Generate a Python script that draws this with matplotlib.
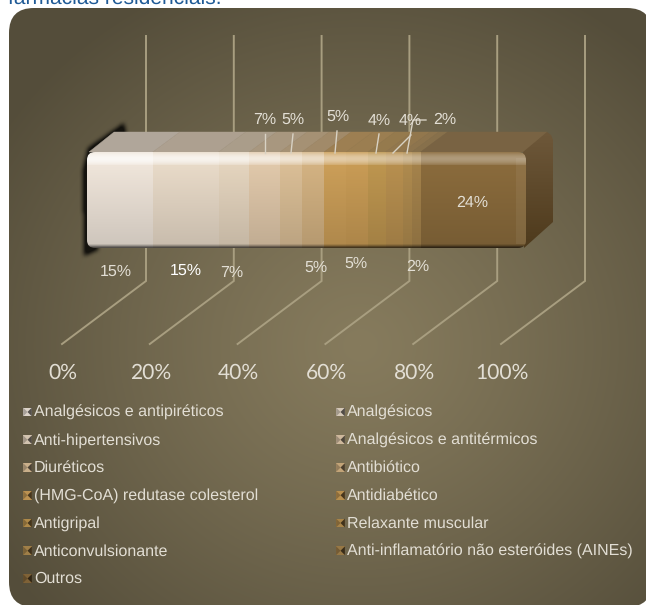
#!/usr/bin/env python3
import numpy as np
import matplotlib
matplotlib.use("Agg")
import matplotlib.pyplot as plt
from matplotlib.patches import FancyBboxPatch, Polygon
from matplotlib.path import Path

W, H = 646, 605

# chart values, in stacking order
labels = ["Analgésicos e antipiréticos", "Analgésicos", "Anti-hipertensivos",
          "Analgésicos e antitérmicos", "Diuréticos", "Antibiótico",
          "(HMG-CoA) redutase colesterol", "Antidiabético", "Antigripal",
          "Relaxante muscular", "Anticonvulsionante",
          "Anti-inflamatório não esteróides (AINEs)", "Outros"]
values = [15, 15, 7, 7, 5, 5, 5, 5, 4, 4, 2, 2, 24]
ticks = [0, 20, 40, 60, 80, 100]
tick_labels = ["0%", "20%", "40%", "60%", "80%", "100%"]
colors = ["#efe5da", "#e8dac8", "#e4d4be", "#e0c8aa", "#dabe96", "#d3b282",
          "#cb9e58", "#c89b55", "#bd954f", "#b78f4f", "#ae8a4e", "#a4824b",
          "#8a6b3c"]

# scale of the value axis on the bar front
PX_PER_PCT = 4.39
X0 = 87
DX, DY = 27, 21  # oblique depth of the bar
BAR_TOP, BAR_BOTTOM = 152, 248
C_GRID = "#a89e80"
C_TEXT = "#e2ded4"

plt.rcParams["text.hinting"] = "none"
plt.rcParams["text.hinting_factor"] = 1
plt.rcParams["font.family"] = ["Liberation Sans", "DejaVu Sans"]

fig = plt.figure(figsize=(W / 100, H / 100), dpi=100)
ax = fig.add_axes([0, 0, 1, 1])
XLIM = (-X0 / PX_PER_PCT, (W - X0) / PX_PER_PCT)
ax.set_xlim(*XLIM)
ax.set_ylim(H, 0)
ax.axis("off")


def px(dx):
    # pixel distance to value units
    return dx / PX_PER_PCT


def rgb(c):
    return np.array(matplotlib.colors.to_rgb(c))


# rounded panel with a radial gradient
yy, xx = np.mgrid[0:H, 0:W]
dist = np.sqrt(((xx - 360) / 430.0) ** 2 + ((yy - 345) / 400.0) ** 2)
t = np.clip(dist, 0, 1)[..., None] ** 1.2
bg = (1 - t) * np.array([134, 123, 93]) + t * np.array([84, 77, 58])
bg_im = ax.imshow(bg / 255.0, extent=XLIM + (H, 0), aspect="auto", zorder=1)
panel = FancyBboxPatch((px(9 - X0), 8), px(652 - 9), 599,
                       boxstyle=f"round,pad=0,rounding_size={px(25)}",
                       mutation_aspect=PX_PER_PCT, fc="none", ec="none")
ax.add_patch(panel)
bg_im.set_clip_path(panel)

# wall and floor gridlines
back = px(146 - X0)
floor = px(62 - X0)
for v in ticks:
    ax.plot([v + back, v + back, v + floor], [36, 281, 344], color=C_GRID,
            lw=1.4, solid_joinstyle="miter", zorder=2)
for v, s in zip(ticks, tick_labels):
    ax.text(v + px(63 - X0), 373, s, color=C_TEXT, fontsize=15, ha="center",
            va="center", family=["Lato", "DejaVu Sans"], zorder=6)

# blurred shadow on the left end of the bar
sy, sx = np.mgrid[100:275, 60:150]
mask = Path([(124, 123), (88, 148), (83, 170), (84, 256), (98, 250), (98, 152), (126, 134)]) \
    .contains_points(np.c_[sx.ravel() + 0.5, sy.ravel() + 0.5]).reshape(sx.shape).astype(float)
kernel = np.ones(5) / 5
for _ in range(2):
    mask = np.apply_along_axis(lambda r: np.convolve(r, kernel, mode="same"), 0, mask)
    mask = np.apply_along_axis(lambda r: np.convolve(r, kernel, mode="same"), 1, mask)
shadow = np.zeros(mask.shape + (4,))
shadow[..., 3] = np.clip(mask, 0, 0.8)
ax.imshow(shadow, aspect="auto", zorder=3, extent=(px(60 - X0), px(150 - X0), 275, 100))

edges = np.concatenate([[0], np.cumsum(values)])

# vertical shading of the front face
n = BAR_BOTTOM - BAR_TOP
s = np.linspace(0, 1, n)
shade = np.where(s < 0.13, 1.0, 1.0 - 0.14 * (s - 0.13) / 0.87)
shade[-4:] *= np.array([0.9, 0.75, 0.55, 0.4])
glow = np.where(s < 0.13, 0.55 * np.sin(np.clip(s / 0.13, 0, 1) * np.pi) + 0.25, 0.0)

frame = FancyBboxPatch((0, BAR_TOP), 100, n, boxstyle=f"round,pad=0,rounding_size={px(8)}",
                       mutation_aspect=PX_PER_PCT, fc="none", ec="none")
ax.add_patch(frame)

wall_tone = np.array([100, 90, 75]) / 255.0
for i, c in enumerate(colors):
    base = rgb(c)
    # top face, the front colour washed into the background
    top = 0.55 * base + 0.45 * wall_tone
    back_right = edges[i + 1] + px(DX - 6 if i == len(colors) - 1 else DX)
    ax.add_patch(Polygon([(edges[i] + px(2 if i == 0 else 0), BAR_TOP), (edges[i + 1], BAR_TOP),
                          (back_right, BAR_TOP - DY + 1),
                          (edges[i] + px(DX), BAR_TOP - DY + 1)],
                         fc=top, ec=top, lw=0.3, zorder=4))
    # front face, highlight weaker on the darker segments
    col = base[None, :] * shade[:, None]
    col = col + (1 - col) * glow[:, None] * base.mean()
    im = ax.imshow(np.clip(col[:, None, :], 0, 1), aspect="auto",
                   extent=(edges[i], edges[i + 1], BAR_BOTTOM, BAR_TOP), zorder=5)
    im.set_clip_path(frame)

# lighter edge on the right of the front face
ax.add_patch(Polygon([(100 - px(10), BAR_TOP + 6), (100, BAR_TOP + 6), (100, BAR_BOTTOM - 4),
                      (100 - px(10), BAR_BOTTOM - 4)],
                     fc="white", alpha=0.06, ec="none", zorder=5.2))

# right end of the bar
end = edges[-1]
side = Polygon([(end - px(3), BAR_TOP), (end + px(DX - 6), BAR_TOP - DY + 1),
                (end + px(DX - 2), BAR_TOP - DY + 4), (end + px(DX), BAR_TOP - DY + 9),
                (end + px(DX), BAR_BOTTOM - 26), (end - px(2), BAR_BOTTOM)],
               fc="none", ec="none")
ax.add_patch(side)
side_grad = np.linspace(0, 1, 50)[:, None, None] * np.array([78, 58, 28]) + \
    np.linspace(1, 0, 50)[:, None, None] * np.array([110, 88, 58])
im = ax.imshow(side_grad / 255.0, aspect="auto", zorder=4.5,
               extent=(end - px(3), end + px(DX), BAR_BOTTOM, BAR_TOP - DY))
im.set_clip_path(side)
ax.set_xlim(*XLIM)
ax.set_ylim(H, 0)

# data labels and their leader lines
label_pos = [(116, 272), (186, 271), (232, 273), (265, 120), (316, 268), (293, 120),
             (356, 264), (338, 117), (379, 121), (410, 121), (418, 267), (445, 120),
             (472, 203)]
leaders = [[(265, 153), (265, 134)], [(291, 153), (293, 134)], [(335, 153), (337, 131)],
           [(376, 153), (379, 134)], [(393, 153), (411, 135)],
           [(407, 153), (413, 120), (426, 120)]]
for seg in leaders:
    xs = [px(p[0] - X0) for p in seg]
    ys = [p[1] for p in seg]
    ax.plot(xs, ys, color="#d8d2c4", lw=1.0, zorder=6)
for i, (v, pos) in enumerate(zip(values, label_pos)):
    ax.text(px(pos[0] - X0), pos[1], f"{v}%", fontsize=11.2, ha="center", va="center",
            color="white" if i == 1 else C_TEXT, zorder=7)

# legend with small bevelled keys
rows_left = labels[0::2]
rows_right = labels[1::2]
for x_key, rows, first in [(27.5, rows_left, 0), (340.5, rows_right, 1)]:
    for r, name in enumerate(rows):
        y = 412 + r * 27.75
        base = rgb(colors[first + 2 * r])
        cx, h = px(x_key - X0), 4.4
        w = px(4.4)
        # top and bottom facets mid tone, left light, right dark
        ax.add_patch(Polygon([(cx - w, y - h), (cx + w, y - h), (cx + w, y + h), (cx - w, y + h)],
                             fc=base * 0.92, ec="none", zorder=6))
        ax.add_patch(Polygon([(cx - w, y - h), (cx, y), (cx - w, y + h)],
                             fc=base * 0.7, ec="none", zorder=6))
        ax.add_patch(Polygon([(cx + w, y - h), (cx, y), (cx + w, y + h)],
                             fc=base * 0.35, ec="none", zorder=6))
        ax.text(px(x_key + 6.5 - X0), y + 4.8, name, fontsize=11.2, color=C_TEXT, ha="left",
                va="baseline", zorder=7)

# what is left of the caption above the chart
ax.text(px(8 - X0), 3.5, "farmácias residenciais.", fontsize=15, color="#1f5a96",
        ha="left", va="baseline", zorder=7, clip_on=False)

fig.savefig("out.png", dpi=100)
print("Saved out.png")
